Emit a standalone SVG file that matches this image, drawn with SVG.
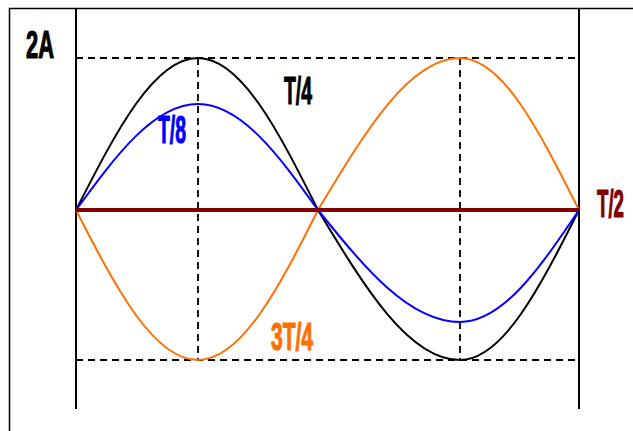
<svg xmlns="http://www.w3.org/2000/svg" width="633" height="431" viewBox="0 0 633 431">
<style>
.frame{stroke:#000;stroke-width:1.5;fill:none}
.axis{stroke:#000;stroke-width:2;fill:none}
.dash{stroke:#000;stroke-width:1.8;stroke-dasharray:7,5;fill:none}
.wave{stroke-width:2;fill:none}
.lbl{font-family:"Liberation Sans",Arial,sans-serif;font-weight:bold;font-size:39px;stroke-width:1.2px;stroke-linejoin:round}
</style>
<rect width="633" height="431" fill="#fff"/>
<g id="frame">
<path class="frame" d="M9.5,431 V8.5 H633"/>
<path class="axis" d="M76,8 V409 M579,8 V409"/>
</g>
<g id="guides">
<path class="dash" d="M76,58 H575 M76,360 H575 M198,58 V360 M460,58 V360"/>
</g>
<g id="connectors">
<path id="black-wave" class="wave" stroke="#000" d="M76,210 C115.8,132.1 153.8,58 198,58 C241.4,58 278.9,132.1 318,210 C364.3,286.8 408.6,360 460,360 C503.1,360 540.2,286.8 579,210"/>
<path id="blue-wave" class="wave" stroke="#0000ff" d="M76,210 C115.8,155.7 153.8,104 198,104 C241.4,104 278.9,155.7 318,210 C364.3,267.4 408.6,322 460,322 C503.1,322 540.2,267.4 579,210"/>
<path id="orange-wave" class="wave" stroke="#ff7000" d="M76,210 C115.8,287.9 153.8,360 198,360 C241.4,360 278.9,287.9 318,210 C364.3,133.2 408.6,58 460,58 C503.1,58 540.2,133.2 579,210"/>
<path id="red-line" stroke="#800000" stroke-width="4" fill="none" d="M76,210 H579"/>
</g>
<g id="label-2A"><text class="lbl" fill="#000" stroke="#000" x="26" y="58" textLength="28" lengthAdjust="spacingAndGlyphs">2A</text></g>
<g id="label-T4"><text class="lbl" fill="#000" stroke="#000" x="284" y="104" textLength="28" lengthAdjust="spacingAndGlyphs">T/4</text></g>
<g id="label-T8"><text class="lbl" fill="#0000ff" stroke="#0000ff" x="158" y="143" textLength="28" lengthAdjust="spacingAndGlyphs">T/8</text></g>
<g id="label-T2"><text class="lbl" fill="#800000" stroke="#800000" x="597" y="217" textLength="27" lengthAdjust="spacingAndGlyphs">T/2</text></g>
<g id="label-3T4"><text class="lbl" fill="#ff7000" stroke="#ff7000" x="271" y="350" textLength="42" lengthAdjust="spacingAndGlyphs">3T/4</text></g>
</svg>
